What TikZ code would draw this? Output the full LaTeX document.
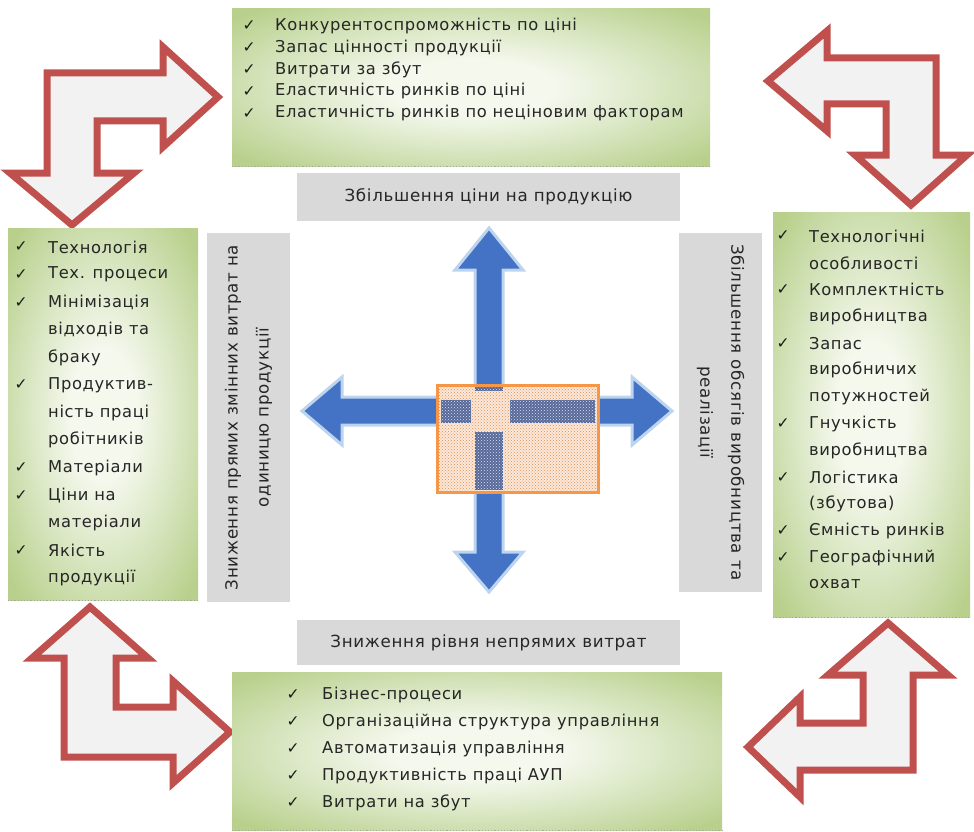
\documentclass[tikz,border=0pt]{standalone}
\usepackage{fontspec}
\setmainfont{DejaVu Sans}[LetterSpace=4]
\usetikzlibrary{patterns}

\definecolor{arrowred}{RGB}{192,80,77}
\definecolor{arrowfill}{RGB}{242,242,242}
\definecolor{crossblue}{RGB}{68,114,196}
\definecolor{glowblue}{RGB}{189,212,238}
\definecolor{labelgray}{RGB}{217,217,217}
\definecolor{boxgreen}{RGB}{184,208,140}
\definecolor{boxmid}{RGB}{212,227,186}
\definecolor{boxlight}{RGB}{244,248,237}
\definecolor{boxorange}{RGB}{247,150,70}
\definecolor{peach}{RGB}{252,232,218}
\definecolor{darkblock}{RGB}{88,104,152}

% soft green glow: light middle, green corners
\pgfdeclareradialshading{greenglow}{\pgfpoint{0bp}{0bp}}{%
    color(0bp)=(boxlight); color(9bp)=(boxlight); color(22bp)=(boxmid);
    color(33bp)=(boxgreen); color(50bp)=(boxgreen)}

\tikzset{
    greenbox/.style={rectangle, anchor=north west, inner sep=0pt, shading=greenglow},
    labelbox/.style={rectangle, fill=labelgray, inner sep=0pt, align=center,
        text=black!85, font=\fontsize{16.7}{31}\selectfont},
    bendarrow/.style={draw=arrowred, fill=arrowfill, line width=7, line join=miter},
    itemtext/.style={anchor=west, inner sep=0pt, text=black!85, font=\fontsize{16.3}{18}\selectfont},
    checkmark/.style={inner sep=0pt, text=black!90, font=\fontsize{15.5}{16}\selectfont},
    dottedline/.style={dotted, line width=1.2, gray!70}
}

\begin{document}
\begin{tikzpicture}[x=1pt, y=-1pt]

\useasboundingbox (0,0) rectangle (974,832);

% Draw the bent red arrows in the corners
\draw[bendarrow] (47,73) -- (163,73) -- (163,47) -- (218,97) -- (163,147) -- (163,121)
    -- (97,121) -- (97,173) -- (134,173) -- (72,225) -- (10,173) -- (47,173) -- cycle; % top left
\draw[bendarrow] (936,58) -- (827,58) -- (827,31) -- (768,81) -- (827,131) -- (827,104)
    -- (886,104) -- (886,155) -- (855,155) -- (911,205) -- (967,155) -- (936,155) -- cycle; % top right
\draw[bendarrow] (64,757) -- (64,658) -- (32,658) -- (90,607) -- (148,658) -- (116,658)
    -- (116,707) -- (173,707) -- (173,681) -- (230,732) -- (173,783) -- (173,757) -- cycle; % bottom left
\draw[bendarrow] (913,770) -- (913,675) -- (948,675) -- (888,623) -- (828,675) -- (863,675)
    -- (863,723) -- (800,723) -- (800,697) -- (748,747) -- (800,797) -- (800,770) -- cycle; % bottom right

% Green boxes
\node[greenbox, minimum width=478, minimum height=158] (prices) at (232,8) {};
\node[greenbox, minimum width=190, minimum height=372] (direct) at (8,228) {};
\node[greenbox, minimum width=197, minimum height=405] (volume) at (773,212) {};
\node[greenbox, minimum width=490, minimum height=158] (overhead) at (232,672) {};
\foreach \b in {prices,direct,volume,overhead} {
    \draw[dottedline] (\b.south west) -- (\b.south east);
}

% Lists in the green boxes
\foreach \c/\t [count=\i from 0] in {1/Конкурентоспроможність по ціні, 1/Запас цінності продукції,
    1/Витрати за збут, 1/Еластичність ринків по ціні, 1/Еластичність ринків по неціновим факторам} {
    \node[itemtext] (prices-\i) at (275,{26+21.8*\i}) {\t};
    \ifnum\c=1 \node[checkmark] (prices-check-\i) at (249,{26+21.8*\i}) {✓}; \fi
}
\foreach \c/\t [count=\i from 0] in {1/Технологія, 1/Тех. процеси, 1/Мінімізація, 0/відходів та,
    0/браку, 1/Продуктив-, 0/ність праці, 0/робітників, 1/Матеріали, 1/Ціни на,
    0/матеріали, 1/Якість, 0/продукції} {
    \node[itemtext] (direct-\i) at (48,{247+27.6*\i}) {\t};
    \ifnum\c=1 \node[checkmark] (direct-check-\i) at (21,{247+27.6*\i}) {✓}; \fi
}
\foreach \c/\t [count=\i from 0] in {1/Технологічні, 0/особливості, 1/Комплектність, 0/виробництва,
    1/Запас, 0/виробничих, 0/потужностей, 1/Гнучкість, 0/виробництва, 1/Логістика,
    0/(збутова), 1/Ємність ринків, 1/Географічний, 0/охват} {
    \node[itemtext] (volume-\i) at (809,{236+26.8*\i}) {\t};
    \ifnum\c=1 \node[checkmark] (volume-check-\i) at (783,{236+26.8*\i}) {✓}; \fi
}
\foreach \c/\t [count=\i from 0] in {1/Бізнес-процеси, 1/Організаційна структура управління,
    1/Автоматизація управління, 1/Продуктивність праці АУП, 1/Витрати на збут} {
    \node[itemtext] (overhead-\i) at (322,{695+27*\i}) {\t};
    \ifnum\c=1 \node[checkmark] (overhead-check-\i) at (293,{695+27*\i}) {✓}; \fi
}

% Gray labels round the cross
\node[labelbox, minimum width=383, minimum height=48] (price-up) at (488.5,197) {Збільшення ціни на продукцію};
\node[labelbox, minimum width=383, minimum height=45] (overhead-down) at (488.5,642.5) {Зниження рівня непрямих витрат};
\node[labelbox, rotate=90, minimum width=369, minimum height=83] (cost-down) at (248.5,417.5)
    {Зниження прямих змінних витрат на\\одиницю продукції};
\node[labelbox, rotate=-90, minimum width=359, minimum height=83] (volume-up) at (720.5,412.5)
    {Збільшення обсягів виробництва та\\реалізації};

% Blue four-way arrow
\filldraw[fill=crossblue, draw=glowblue, line width=3, line join=miter]
    (489,228) -- (523,270) -- (503,270) -- (503,397) -- (632,397) -- (632,377) -- (672,411)
    -- (632,445) -- (632,425) -- (503,425) -- (503,552) -- (523,552) -- (489,592) -- (455,552)
    -- (475,552) -- (475,425) -- (342,425) -- (342,445) -- (302,411) -- (342,377) -- (342,397)
    -- (475,397) -- (475,270) -- (455,270) -- cycle;

% Patterned box in the middle
\fill[peach] (437,385) rectangle (598,492);
\fill[pattern=crosshatch dots, pattern color=boxorange!80!gray] (437,385) rectangle (598,492);
\foreach \xa/\ya/\xb/\yb in {441/400/471/423, 510/400/595/423, 475/432/503/490, 475/387/503/391} {
    \fill[darkblock] (\xa,\ya) rectangle (\xb,\yb);
    \fill[pattern=crosshatch dots, pattern color=glowblue!60] (\xa,\ya) rectangle (\xb,\yb);
}
\draw[boxorange, line width=3] (437,385) rectangle (598,492);

\end{tikzpicture}
\end{document}
